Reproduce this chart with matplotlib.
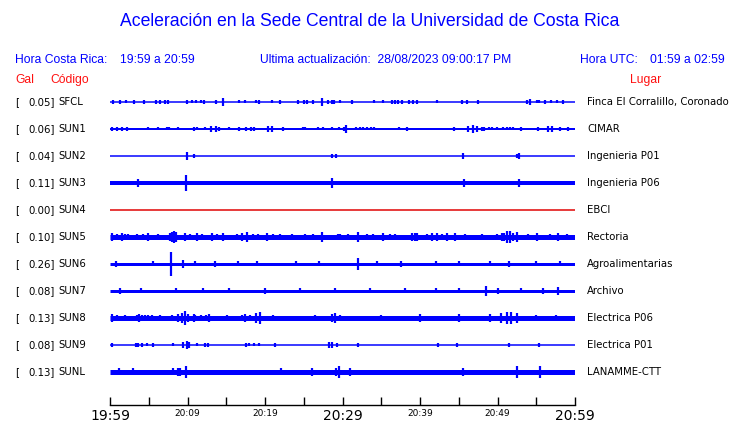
import numpy as np
import matplotlib.pyplot as plt

# stations, peak acceleration (gal), place
codes = ["SFCL", "SUN1", "SUN2", "SUN3", "SUN4", "SUN5", "SUN6", "SUN7", "SUN8", "SUN9", "SUNL"]
gal = [0.05, 0.06, 0.04, 0.11, 0.00, 0.10, 0.26, 0.08, 0.13, 0.08, 0.13]
places = ["Finca El Corralillo, Coronado", "CIMAR", "Ingenieria P01", "Ingenieria P06", "EBCI",
          "Rectoria", "Agroalimentarias", "Archivo", "Electrica P06", "Electrica P01", "LANAMME-CTT"]

# background noise band of each trace (full height)
noise = [1.5, 2.0, 1.5, 4.0, 1.5, 5.0, 3.0, 3.0, 5.0, 1.5, 5.0]

# bursts: (minutes after 19:59, half height)
bursts = {
    "SFCL": [(0.4, 2), (1.3, 2), (2.1, 1.5), (3.1, 2), (4.4, 2), (5.9, 2), (6.5, 2), (7.1, 2), (7.5, 2),
             (9.9, 2), (10.6, 1.5), (11.1, 1.5), (11.7, 1.5), (12.1, 2), (13.7, 2), (14.6, 4), (16.6, 1.5),
             (17.4, 1.5), (18.8, 1.5), (19.2, 2), (20.9, 1.5), (21.9, 2), (24.3, 2), (25.0, 2), (25.4, 2),
             (26.2, 2), (27.4, 4), (28.1, 2), (28.6, 2), (28.9, 2), (29.7, 1.5), (31.2, 2), (34.1, 1.5),
             (35.2, 1.5), (36.4, 2), (36.8, 2), (37.2, 2), (37.7, 2), (38.6, 2), (39.1, 2), (39.6, 2),
             (42.2, 1.5), (45.4, 2), (46.1, 2), (47.5, 2), (53.8, 2), (54.2, 3), (55.1, 1.5), (55.4, 1.5),
             (56.1, 2), (56.9, 1.5), (57.7, 1.5), (58.5, 2)],
    "SUN1": [(0.3, 2), (0.9, 2), (1.5, 2), (2.2, 2), (4.9, 1.5), (6.2, 1.5), (7.4, 1.5), (7.6, 1.5),
             (8.8, 1.5), (10.9, 2), (11.2, 1.5), (12.3, 1.5), (13.0, 3), (13.7, 3), (14.1, 2), (15.4, 1.5),
             (16.6, 2), (17.5, 2), (18.2, 2), (18.6, 2), (20.4, 3), (20.9, 3), (22.3, 2), (24.9, 1.5),
             (25.1, 1.5), (26.8, 1.5), (27.5, 1.5), (28.6, 1.5), (29.5, 1.5), (30.2, 2), (30.3, 2),
             (30.5, 4), (31.7, 1.5), (32.3, 1.5), (32.6, 1.5), (33.2, 1.5), (33.7, 1.5), (34.0, 1.5),
             (37.3, 1.5), (38.3, 2), (44.4, 2), (46.2, 3), (46.8, 4), (47.3, 3), (48.0, 2), (48.2, 2),
             (48.9, 1.5), (49.3, 1.5), (49.9, 1.5), (50.7, 1.5), (51.2, 1.5), (51.6, 1.5), (52.0, 1.5),
             (53.0, 2), (55.2, 2), (56.5, 3), (57.0, 3), (58.1, 2), (59.1, 2)],
    "SUN2": [(9.9, 4), (10.8, 2), (28.6, 2), (29.2, 2), (45.5, 3), (52.5, 2), (52.8, 3)],
    "SUN3": [(3.6, 4), (9.8, 8), (28.6, 5), (45.7, 4), (52.8, 4)],
    "SUN4": [],
    "SUN5": [(0.3, 4), (0.9, 3), (1.5, 4), (1.9, 3), (2.3, 3), (3.5, 3), (4.3, 3), (4.9, 4), (6.2, 3),
             (7.7, 4), (8.0, 5), (8.3, 6), (8.5, 5), (9.7, 4), (10.3, 3), (11.2, 4), (11.9, 3), (13.2, 4),
             (13.8, 3), (14.6, 4), (16.4, 3), (17.0, 4), (17.7, 5), (18.4, 3), (19.1, 3), (20.3, 4),
             (21.0, 3), (21.9, 3), (23.5, 3), (25.2, 3), (26.2, 3), (27.4, 5), (29.4, 3), (29.7, 3),
             (30.7, 3), (32.0, 5), (33.2, 3), (33.9, 3), (35.2, 4), (36.1, 3), (36.8, 3), (39.0, 4),
             (39.3, 4), (39.6, 4), (40.9, 3), (41.5, 4), (42.2, 4), (42.8, 3), (43.5, 4), (44.5, 4),
             (45.8, 3), (48.0, 3), (49.9, 3), (50.6, 4), (50.9, 4), (51.2, 6), (51.6, 6), (52.0, 4),
             (52.5, 5), (53.9, 3), (55.1, 4), (56.8, 3), (57.8, 4), (59.0, 3)],
    "SUN6": [(0.8, 3), (5.5, 2.5), (7.9, 12), (9.4, 4), (11.0, 2.5), (13.6, 3), (16.5, 2.5), (19.0, 2.5),
             (24.0, 2.5), (27.0, 2.5), (32.0, 6), (34.5, 2.5), (37.5, 3), (42.0, 2.5), (45.0, 2.5),
             (49.0, 2.5), (51.5, 3), (55.0, 2.5), (58.0, 2.5)],
    "SUN7": [(1.3, 3), (4.0, 2.5), (8.5, 2.5), (12.0, 2.5), (15.3, 2.5), (20.0, 3), (24.5, 2.5),
             (29.0, 2.5), (33.5, 2.5), (38.0, 2.5), (42.0, 2.5), (45.0, 2.5), (48.5, 5), (50.0, 3),
             (53.0, 2.5), (55.9, 3), (57.8, 4)],
    "SUN8": [(0.3, 4), (0.9, 3), (1.9, 3), (3.5, 3), (3.7, 4), (4.1, 3), (4.5, 3), (4.9, 3), (5.4, 3),
             (6.5, 3), (8.0, 3), (8.8, 4), (9.3, 5), (9.7, 7), (10.0, 4), (10.8, 4), (11.0, 3), (11.7, 3),
             (12.4, 3), (12.8, 4), (15.1, 3), (17.0, 3), (17.4, 4), (18.1, 3), (18.8, 5), (19.4, 6),
             (21.0, 3), (26.4, 3), (28.6, 4), (29.0, 5), (29.7, 3), (35.0, 3), (40.0, 4), (45.0, 4),
             (49.0, 4), (50.5, 5), (51.2, 6), (51.8, 6), (52.5, 5), (55.0, 3), (57.5, 3)],
    "SUN9": [(0.3, 2), (3.4, 2), (3.6, 2), (4.1, 2), (4.8, 1.5), (5.5, 2), (8.1, 1.5), (9.4, 3),
             (9.9, 4), (10.2, 3), (11.2, 1.5), (12.3, 2), (12.6, 2), (17.6, 2), (17.9, 1.5), (18.6, 1.5),
             (19.2, 1.5), (21.3, 2), (28.2, 3), (28.7, 3), (29.3, 2), (32.0, 2), (42.3, 2), (44.8, 2),
             (51.5, 2), (55.3, 2)],
    "SUNL": [(1.2, 3.5), (3.0, 3.5), (8.1, 3.5), (8.8, 4), (9.0, 4), (9.8, 6), (22.0, 3.5),
             (26.0, 4), (29.1, 4), (29.6, 6), (31.0, 4), (45.5, 4), (52.5, 6), (55.5, 6)],
}

big_ticks = {0: "19:59", 30: "20:29", 60: "20:59"}
small_ticks = {10: "20:09", 20: "20:19", 40: "20:39", 50: "20:49"}

blue = "#0000ff"
fig = plt.figure(figsize=(7.4, 4.23), dpi=100)
W, H = 740, 423
px = 72 / 100  # points per pixel

ax = fig.add_axes([110 / W, 1 - 405 / H, 465 / W, (405 - 90) / H])
ax.set_xlim(0, 60)
ax.set_ylim(405, 90)

lab = dict(fontsize=7.3, va="center", family="DejaVu Sans")
for i, code in enumerate(codes):
    y = 102 + 27 * i
    color = "#e00000" if code == "SUN4" else blue
    ax.hlines(y, 0, 60, color=color, lw=noise[i] * px)
    ev = bursts[code]
    if ev:
        t = np.array([e[0] for e in ev])
        a = np.array([e[1] for e in ev])
        ax.vlines(t, y - a, y + a, color=color, lw=2.2 * px)

    yy = 1 - y / H
    fig.text(15 / W, yy, "[", **lab)
    fig.text(55 / W, yy, "%.2f]" % gal[i], ha="right", **lab)
    fig.text(58 / W, yy, code, **lab)
    fig.text(587 / W, yy, places[i], **lab)

for s in ["top", "left", "right"]:
    ax.spines[s].set_visible(False)
ax.spines["bottom"].set_linewidth(1)
ax.set_yticks([])
ax.set_xticks(np.arange(0, 61, 5))
ax.tick_params(axis="x", direction="in", length=6, width=1, pad=3)
labels = []
for m in np.arange(0, 61, 5):
    labels.append(big_ticks.get(m, small_ticks.get(m, "")))
ax.set_xticklabels(labels)
for m, tl in zip(np.arange(0, 61, 5), ax.get_xticklabels()):
    tl.set_fontsize(10 if m in big_ticks else 6.5)
    tl.set_family("DejaVu Sans")

hdr = dict(color=blue, fontsize=8.7, family="Liberation Sans", va="center")
fig.text(0.5, 1 - 22 / H, "Aceleración en la Sede Central de la Universidad de Costa Rica",
         color=blue, fontsize=12.7, family="Liberation Sans", ha="center", va="center")
fig.text(15 / W, 1 - 60 / H, "Hora Costa Rica:", **hdr)
fig.text(120 / W, 1 - 60 / H, "19:59 a 20:59", **hdr)
fig.text(260 / W, 1 - 60 / H, "Ultima actualización:  28/08/2023 09:00:17 PM", **hdr)
fig.text(580 / W, 1 - 60 / H, "Hora UTC:", **hdr)
fig.text(650 / W, 1 - 60 / H, "01:59 a 02:59", **hdr)

red = dict(color="#ff1010", fontsize=8.7, family="Liberation Sans", va="center")
fig.text(15 / W, 1 - 80 / H, "Gal", **red)
fig.text(50 / W, 1 - 80 / H, "Código", **red)
fig.text(630 / W, 1 - 80 / H, "Lugar", **red)

fig.savefig("out.png", dpi=100)
